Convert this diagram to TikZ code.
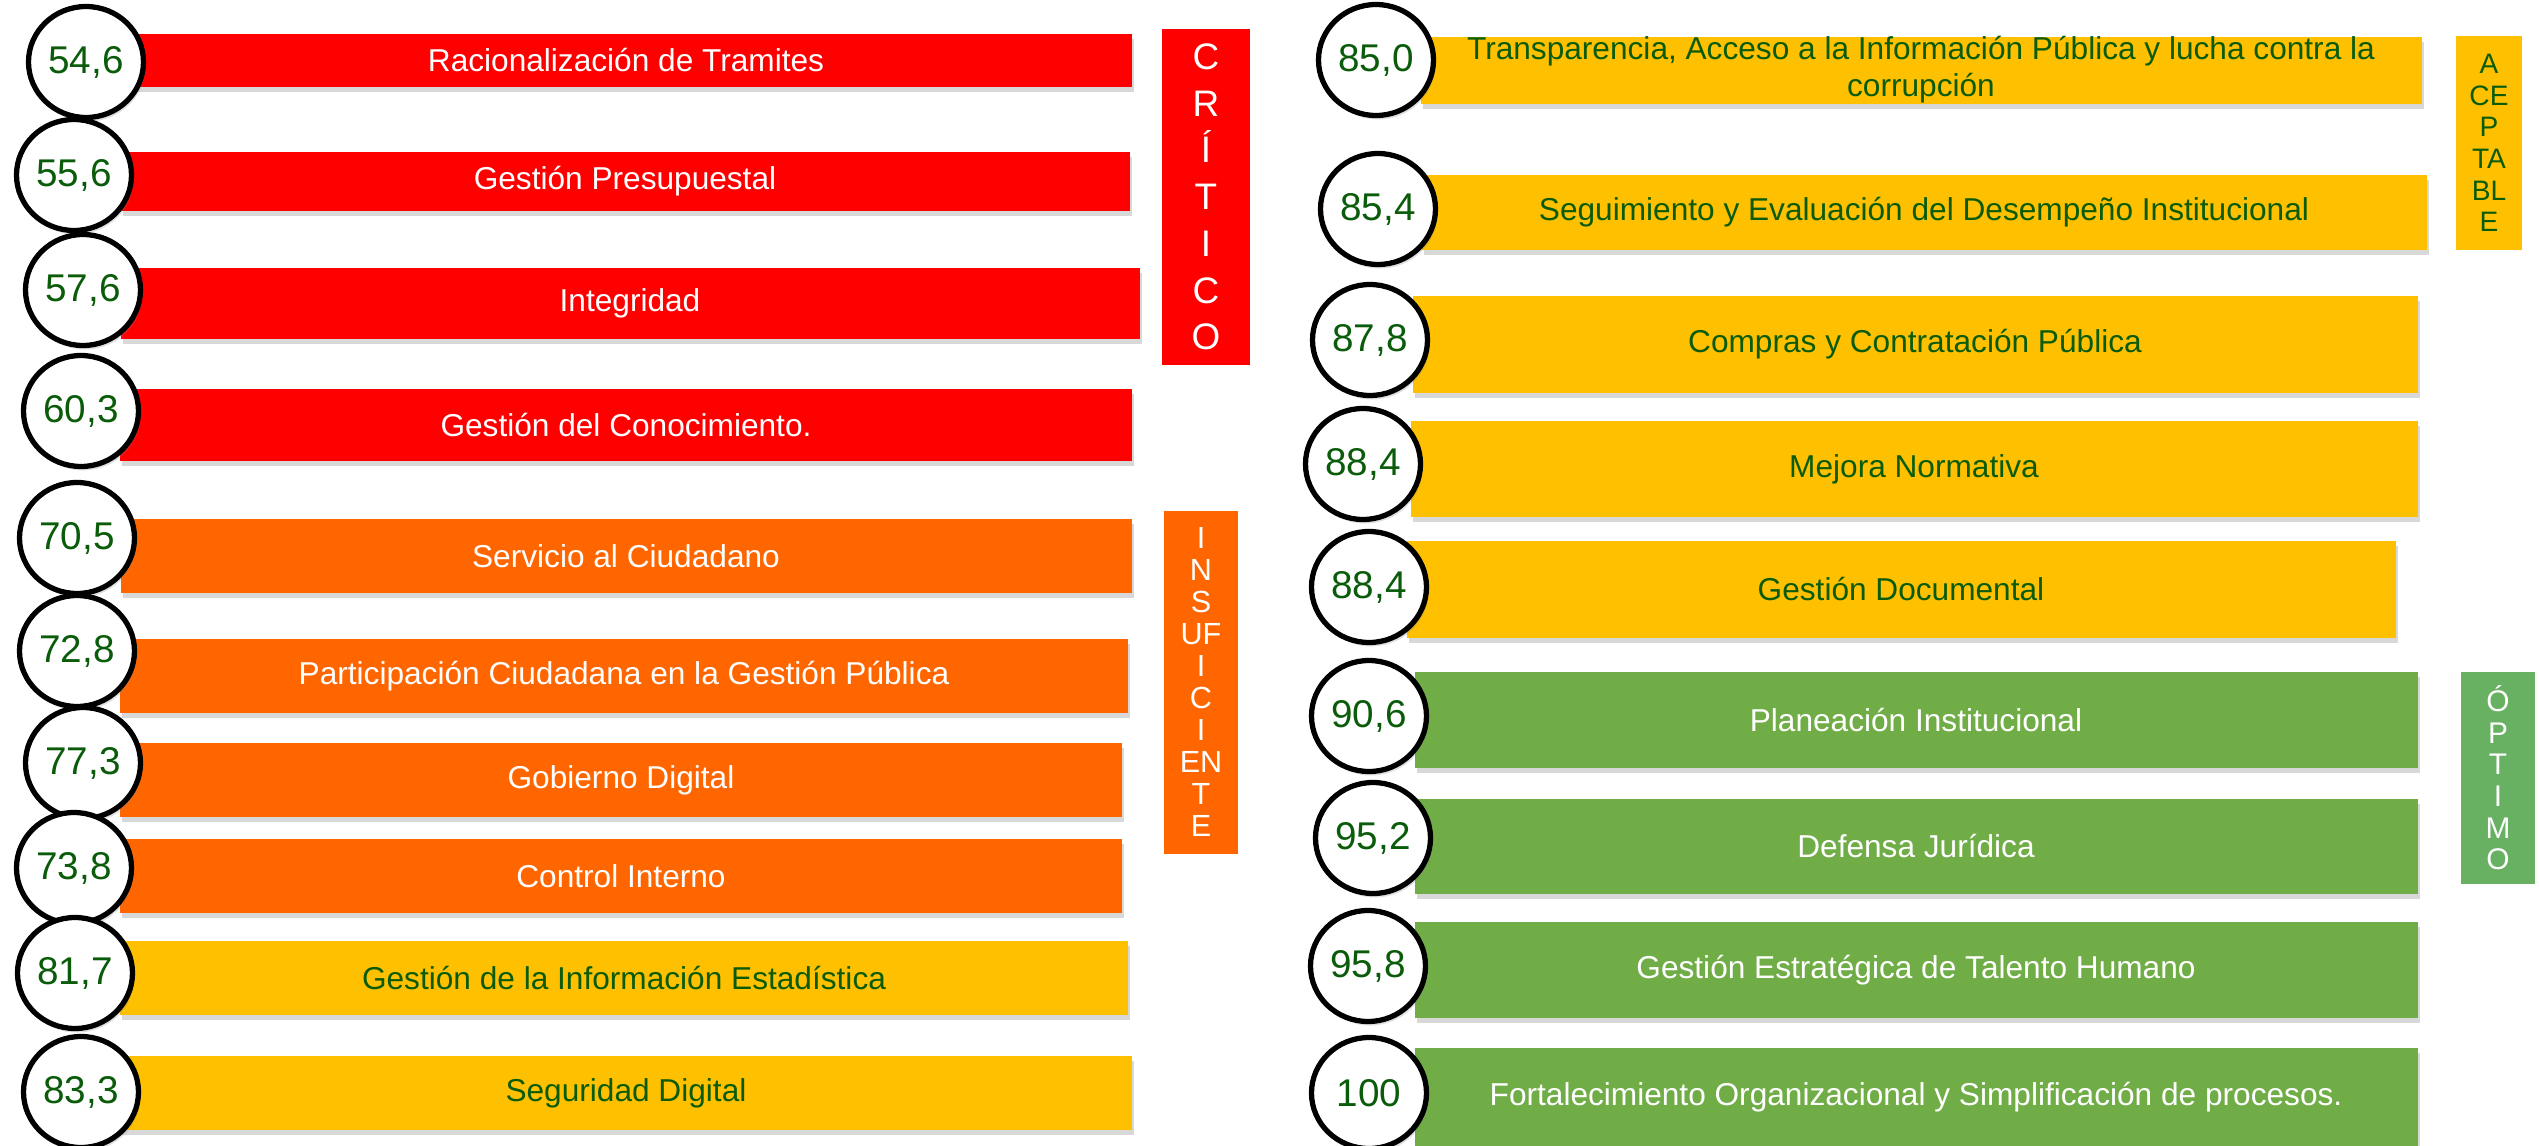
\documentclass[tikz,border=0pt]{standalone}
\usepackage{fontspec}
\setmainfont{Liberation Sans}
\usetikzlibrary{shapes.geometric, shadows}

\definecolor{rojo}{HTML}{FF0000}
\definecolor{naranja}{HTML}{FF6600}
\definecolor{amarillo}{HTML}{FFC000}
\definecolor{verde}{HTML}{70AD47}
\definecolor{verdeopt}{HTML}{68B062}
\definecolor{verdetxt}{HTML}{0A5C0A}

\begin{document}
\begin{tikzpicture}[
    barra/.style={rectangle, inner sep=0pt, align=center,
        font=\fontsize{9}{10.5}\selectfont,
        drop shadow={shadow xshift=0.02cm, shadow yshift=-0.05cm, opacity=0.3}},
    nota/.style={ellipse, draw=black, line width=1.5pt, fill=white, inner sep=0pt,
        minimum width=1.15cm, minimum height=1.11cm, text=verdetxt,
        font=\fontsize{11}{13}\selectfont,
        drop shadow={shadow xshift=0.02cm, shadow yshift=-0.04cm, opacity=0.25}},
    nivel/.style={rectangle, inner sep=0pt, align=center}
]
\fill[white] (0,0) rectangle (25.39,-11.46);
\useasboundingbox (0,0) rectangle (25.39,-11.46);

% Critico
\node[barra, fill=rojo, text=white, minimum width=10.11cm, minimum height=0.53cm] (tramites) at (6.26,-0.60) {Racionalización de Tramites};
\node[barra, fill=rojo, text=white, minimum width=10.09cm, minimum height=0.59cm] (presupuesto) at (6.25,-1.81) {Gestión Presupuestal};
\node[barra, fill=rojo, text=white, minimum width=10.19cm, minimum height=0.71cm] (integridad) at (6.30,-3.03) {Integridad};
\node[barra, fill=rojo, text=white, minimum width=10.12cm, minimum height=0.72cm] (conocimiento) at (6.26,-4.25) {Gestión del Conocimiento.};

% Insuficiente
\node[barra, fill=naranja, text=white, minimum width=10.11cm, minimum height=0.74cm] (servicio) at (6.26,-5.56) {Servicio al Ciudadano};
\node[barra, fill=naranja, text=white, minimum width=10.08cm, minimum height=0.74cm] (participacion) at (6.24,-6.76) {Participación Ciudadana en la Gestión Pública};
\node[barra, fill=naranja, text=white, minimum width=10.02cm, minimum height=0.74cm] (gobierno) at (6.21,-7.80) {Gobierno Digital};
\node[barra, fill=naranja, text=white, minimum width=10.02cm, minimum height=0.74cm] (control) at (6.21,-8.76) {Control Interno};

% Aceptable (izquierda)
\node[barra, fill=amarillo, text=verdetxt, minimum width=10.08cm, minimum height=0.74cm] (estadistica) at (6.24,-9.78) {Gestión de la Información Estadística};
\node[barra, fill=amarillo, text=verdetxt, minimum width=10.12cm, minimum height=0.74cm] (seguridad) at (6.26,-10.93) {Seguridad Digital};

% Aceptable (derecha)
\node[barra, fill=amarillo, text=verdetxt, minimum width=10.01cm, minimum height=0.67cm] (transparencia) at (19.21,-0.70) {Transparencia, Acceso a la Información Pública y lucha contra la\\corrupción};
\node[barra, fill=amarillo, text=verdetxt, minimum width=10.05cm, minimum height=0.75cm] (seguimiento) at (19.24,-2.12) {Seguimiento y Evaluación del Desempeño Institucional};
\node[barra, fill=amarillo, text=verdetxt, minimum width=10.05cm, minimum height=0.97cm] (compras) at (19.15,-3.44) {Compras y Contratación Pública};
\node[barra, fill=amarillo, text=verdetxt, minimum width=10.07cm, minimum height=0.96cm] (normativa) at (19.14,-4.69) {Mejora Normativa};
\node[barra, fill=amarillo, text=verdetxt, minimum width=9.89cm, minimum height=0.97cm] (documental) at (19.01,-5.89) {Gestión Documental};

% Optimo
\node[barra, fill=verde, text=white, minimum width=10.03cm, minimum height=0.96cm] (planeacion) at (19.16,-7.20) {Planeación Institucional};
\node[barra, fill=verde, text=white, minimum width=10.03cm, minimum height=0.95cm] (defensa) at (19.16,-8.46) {Defensa Jurídica};
\node[barra, fill=verde, text=white, minimum width=10.03cm, minimum height=0.96cm] (talento) at (19.16,-9.70) {Gestión Estratégica de Talento Humano};
\node[barra, fill=verde, text=white, minimum width=10.03cm, minimum height=0.98cm] (fortalecimiento) at (19.16,-10.97) {Fortalecimiento Organizacional y Simplificación de procesos.};

% Puntajes
\node[nota] (n546) at (0.86,-0.62) {54,6};
\node[nota] (n556) at (0.74,-1.75) {55,6};
\node[nota] (n576) at (0.83,-2.90) {57,6};
\node[nota] (n603) at (0.81,-4.11) {60,3};
\node[nota] (n705) at (0.77,-5.38) {70,5};
\node[nota] (n728) at (0.77,-6.51) {72,8};
\node[nota] (n773) at (0.83,-7.63) {77,3};
\node[nota] (n738) at (0.74,-8.68) {73,8};
\node[nota] (n817) at (0.75,-9.73) {81,7};
\node[nota] (n833) at (0.81,-10.92) {83,3};

\node[nota] (n850) at (13.76,-0.60) {85,0};
\node[nota] (n854) at (13.78,-2.09) {85,4};
\node[nota] (n878) at (13.70,-3.40) {87,8};
\node[nota] (n884a) at (13.63,-4.64) {88,4};
\node[nota] (n884b) at (13.69,-5.87) {88,4};
\node[nota] (n906) at (13.69,-7.16) {90,6};
\node[nota] (n952) at (13.73,-8.38) {95,2};
\node[nota] (n958) at (13.68,-9.66) {95,8};
\node[nota] (n100) at (13.69,-10.93) {100};

% Niveles
\node[nivel, fill=rojo, text=white, minimum width=0.88cm, minimum height=3.36cm,
    font=\fontsize{10.5}{13.3}\selectfont] (critico) at (12.06,-1.97) {C\\R\\Í\\T\\I\\C\\O};
\node[nivel, fill=naranja, text=white, minimum width=0.74cm, minimum height=3.43cm,
    font=\fontsize{8.7}{9.1}\selectfont] (insuficiente) at (12.01,-6.82) {I\\N\\S\\UF\\I\\C\\I\\EN\\T\\E};
\node[nivel, fill=amarillo, text=verdetxt, minimum width=0.66cm, minimum height=2.13cm,
    font=\fontsize{8}{9}\selectfont] (aceptable) at (24.89,-1.43) {A\\CE\\P\\TA\\BL\\E};
\node[nivel, fill=verdeopt, text=white, minimum width=0.74cm, minimum height=2.12cm,
    font=\fontsize{8.5}{9}\selectfont] (optimo) at (24.98,-7.78) {Ó\\P\\T\\I\\M\\O};
\end{tikzpicture}
\end{document}
